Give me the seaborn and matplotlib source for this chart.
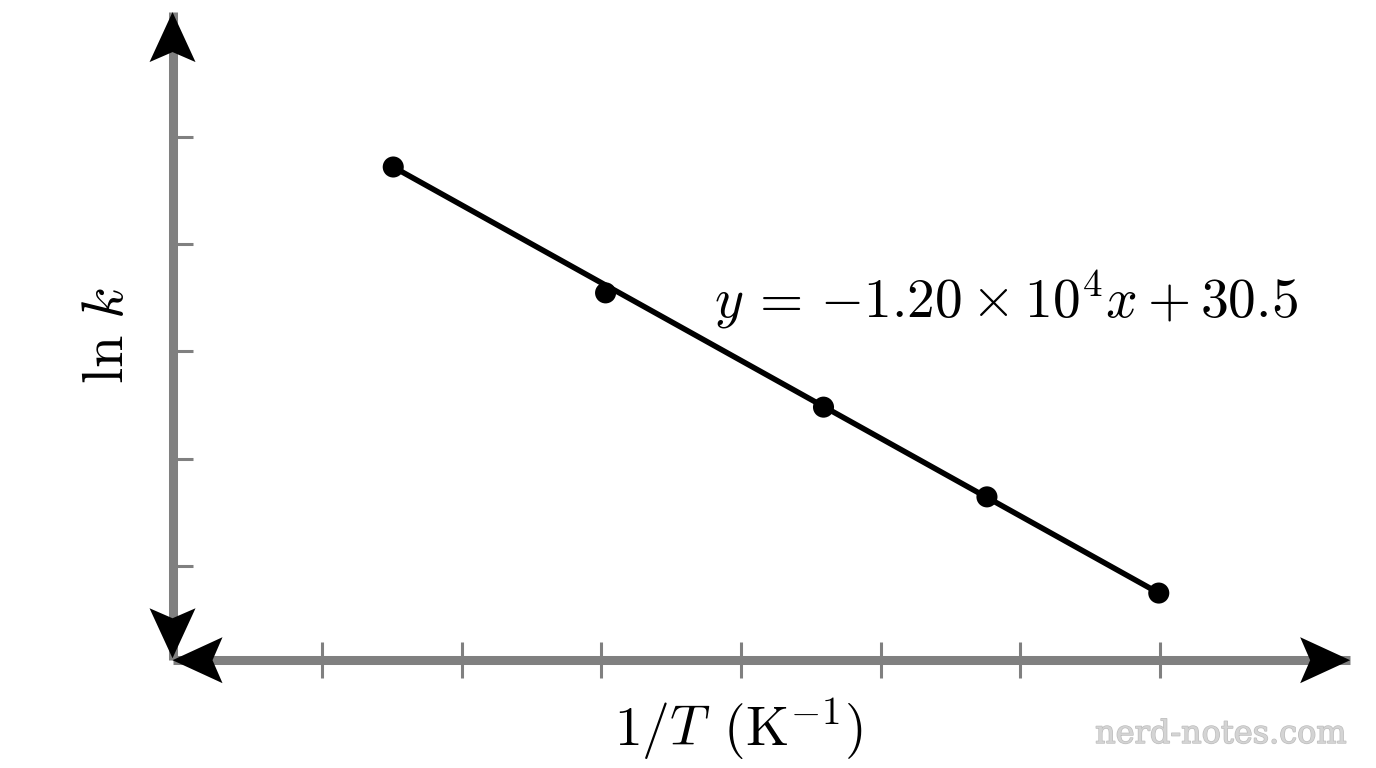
import numpy as np
import matplotlib
matplotlib.use("Agg")
import matplotlib.pyplot as plt
import matplotlib.patheffects as pe
from matplotlib.patches import Polygon
import pandas as pd
import seaborn as sns

# measured points: 1/T (K^-1) vs ln k
inv_T = [0.002851, 0.003003, 0.003159, 0.003276, 0.003399]
ln_k = [-3.70, -5.65, -7.42, -8.81, -10.30]

# fitted line end points (y = -1.20e4 x + 30.5)
fit_x = [0.002851, 0.003399]
fit_y = [-3.70, -10.30]

# unlabeled tick positions
x_ticks = [0.0028, 0.0029, 0.0030, 0.0031, 0.0032, 0.0033, 0.0034]
y_ticks = [-3.23, -4.89, -6.55, -8.22, -9.88]

# axis crossing and arrow ends
x_origin, y_origin = 0.002693, -11.34
x_end, y_end = 0.003536, -1.30

equation = r"$y\,=\,{-}1.20 \times 10^4 x + 30.5$"
x_label = r"$1/T\;\,(\mathrm{K}^{-1})$"
y_label = r"$\ln\,k$"

sns.set_theme(style="white")
plt.rcParams["mathtext.fontset"] = "cm"

W, H = 1376, 768
fig = plt.figure(figsize=(W / 100, H / 100), dpi=100)
ax = fig.add_axes([0, 0, 1, 1])
ax.set_xlim(0.0025695, 0.0035545)
ax.set_ylim(-13.010, -1.113)
ax.axis("off")

axis_gray = "#808080"

# axes lines
ax.plot([x_origin, x_end], [y_origin, y_origin], color=axis_gray, lw=6.5,
        solid_capstyle="butt", zorder=1)
ax.plot([x_origin, x_origin], [y_origin, y_end], color=axis_gray, lw=6.5,
        solid_capstyle="butt", zorder=1)

# ticks
ax.vlines(x_ticks, y_origin - 0.28, y_origin + 0.28, color=axis_gray, lw=2.2, zorder=1)
ax.hlines(y_ticks, x_origin, x_origin + 0.0000145, color=axis_gray, lw=2.2, zorder=1)


def arrow_head(x, y, dx, dy, length=50, half=23, notch=40):
    tip = ax.transData.transform((x, y))
    d = np.array([dx, dy], dtype=float)
    n = np.array([-dy, dx], dtype=float)
    pts = [tip,
           tip - length * d + half * n,
           tip - notch * d,
           tip - length * d - half * n]
    pts = ax.transData.inverted().transform(np.array(pts))
    ax.add_patch(Polygon(pts, closed=True, color="black", lw=0, zorder=3))


arrow_head(x_origin, y_end, 0, 1)
arrow_head(x_origin, y_origin + 0.03, 0, -1)
arrow_head(x_origin, y_origin, -1, 0)
arrow_head(x_end, y_origin, 1, 0)

# data
sns.lineplot(x=fit_x, y=fit_y, color="black", lw=4, ax=ax, zorder=4)
sns.scatterplot(x=inv_T, y=ln_k, color="black", s=230, edgecolor="none",
                ax=ax, zorder=5)

fig.text(1006 / W, 1 - 300 / H, equation, fontsize=40, ha="center", va="center",
         color="black")
fig.text(738 / W, 1 - 730 / H, x_label, fontsize=40, ha="center", va="center",
         color="black")
fig.text(107 / W, 1 - 335 / H, y_label, fontsize=42, ha="center", va="center",
         rotation=90, color="black")

fig.text(1347 / W, 1 - 743 / H, "nerd-notes.com", fontsize=23, ha="right",
         va="baseline", family="DejaVu Serif", color="#d4d4d4",
         path_effects=[pe.withStroke(linewidth=1.0, foreground="#bdbdbd")])

fig.savefig("out.png", dpi=100, facecolor="white")
